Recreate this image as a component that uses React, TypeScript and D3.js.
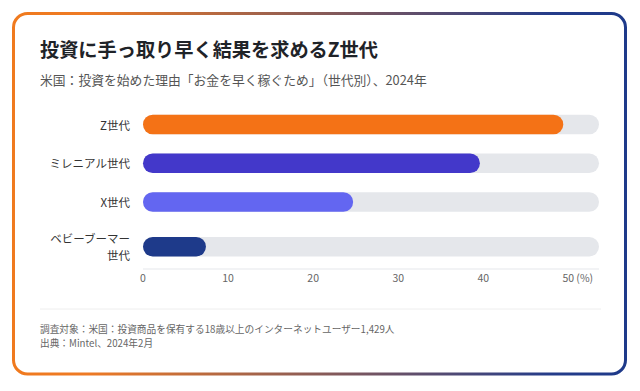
import React from "react";
import * as d3 from "d3";

const title = "投資に手っ取り早く結果を求めるZ世代";
const subtitle = "米国：投資を始めた理由「お金を早く稼ぐため」（世代別）、2024年";
const footnotes = [
  "調査対象：米国：投資商品を保有する18歳以上のインターネットユーザー1,429人",
  "出典：Mintel、2024年2月",
];
const categories = ["Z世代", "ミレニアル世代", "X世代", "ベビーブーマー\n世代"];
const values = [49.4, 39.6, 24.7, 7.4];
const barColors = ["#F47216", "#4338CA", "#6366F1", "#1E3A8A"];
const tickValues = [0, 10, 20, 30, 40, 50];
const trackMax = 53.6;

const W = 640;
const H = 391;
const FONT = "'Noto Sans CJK JP', 'Noto Sans', sans-serif";

export default function App() {
  const x = d3.scaleLinear().domain([0, trackMax]).range([143, 599]);
  const barH = 19.5;
  const rowStep = 38.75;
  const extraPerLine = 6;
  const firstCenter = 124.5;

  // row centers: rows with multi-line labels get extra room
  const lines = categories.map((c) => c.split("\n"));
  const centers: number[] = [];
  let cy = firstCenter;
  lines.forEach((l, i) => {
    if (i > 0) cy += rowStep + (l.length - 1) * extraPerLine;
    centers.push(cy);
  });

  const axisY = 269;

  return (
    <svg
      width={W}
      height={H}
      style={{ position: "absolute", left: 0, top: 0, display: "block", background: "#fff" }}
      fontFamily={FONT}
    >
      <defs>
        <linearGradient id="border" x1="0" y1="0" x2="1" y2="0">
          <stop offset="0" stopColor="#F07A1E" />
          <stop offset="0.12" stopColor="#EE7A24" />
          <stop offset="0.88" stopColor="#243C8A" />
          <stop offset="1" stopColor="#1E3A8A" />
        </linearGradient>
      </defs>
      <rect x={0} y={0} width={W} height={H} fill="#fff" />
      <rect
        x={13.5}
        y={13.5}
        width={612}
        height={360.5}
        rx={14}
        ry={14}
        fill="#fff"
        stroke="url(#border)"
        strokeWidth={3}
      />
      <text x={40} y={49} dominantBaseline="central" fontSize={19.2} fontWeight={700} fill="#1F2328">
        {title}
      </text>
      <text x={40} y={79} dominantBaseline="central" fontSize={12.8} fill="#555">
        {subtitle}
      </text>

      {categories.map((c, i) => {
        const ls = lines[i];
        const lh = 17;
        return (
          <g key={c}>
            {ls.map((t, j) => (
              <text
                key={j}
                x={130}
                y={centers[i] + (j - (ls.length - 1) / 2) * lh}
                textAnchor="end"
                dominantBaseline="central"
                fontSize={11.5}
                fill="#333"
              >
                {t}
              </text>
            ))}
            <rect
              x={x(0)}
              y={centers[i] - barH / 2}
              width={x(trackMax) - x(0)}
              height={barH}
              rx={barH / 2}
              fill="#E5E7EB"
            />
            <rect
              x={x(0)}
              y={centers[i] - barH / 2}
              width={x(values[i]) - x(0)}
              height={barH}
              rx={barH / 2}
              fill={barColors[i]}
            />
          </g>
        );
      })}

      <line x1={x(0)} x2={x(trackMax)} y1={axisY} y2={axisY} stroke="#E5E7EB" strokeWidth={1} />
      {tickValues.map((t, i) => (
        <g key={t}>
          <text
            x={x(t)}
            y={277.5}
            textAnchor="middle"
            dominantBaseline="central"
            fontSize={10.5}
            fill="#666"
          >
            {t}
          </text>
          {i === tickValues.length - 1 && (
            <text x={x(t) + 8} y={277.5} dominantBaseline="central" fontSize={10.5} fill="#666">
              (%)
            </text>
          )}
        </g>
      ))}

      <line x1={40} x2={601} y1={309} y2={309} stroke="#EEEEEE" strokeWidth={1} />
      {footnotes.map((f, i) => (
        <text key={i} x={40} y={328.5 + i * 14.5} dominantBaseline="central" fontSize={9.7} fill="#666">
          {f}
        </text>
      ))}
    </svg>
  );
}
